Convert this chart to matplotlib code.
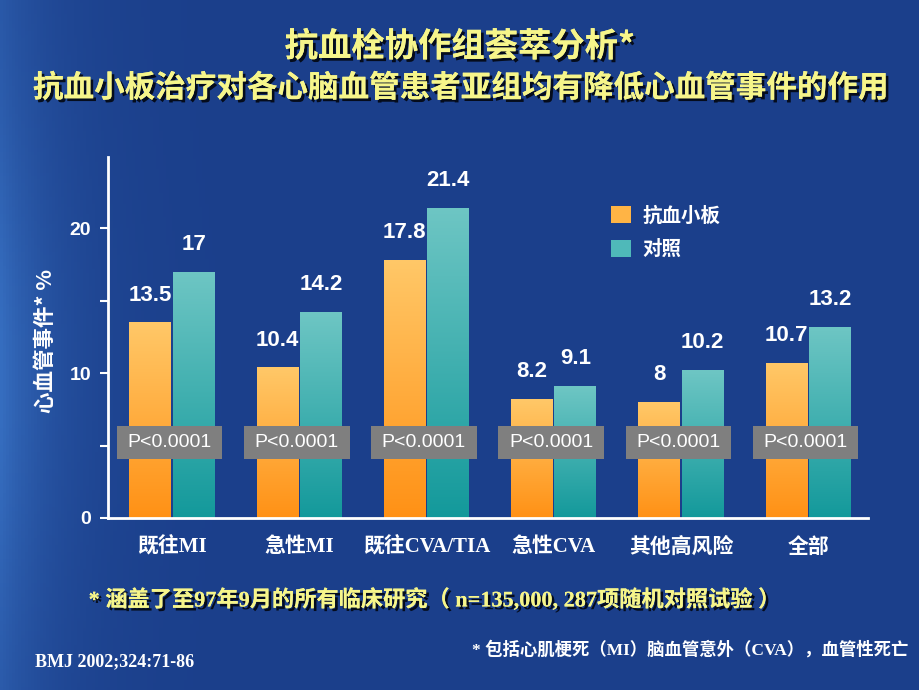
import matplotlib
matplotlib.use("Agg")
import matplotlib.pyplot as plt
import matplotlib.patheffects as pe
from matplotlib.patches import Rectangle, Patch
from matplotlib.colors import LinearSegmentedColormap
import numpy as np

# data
categories = ["既往MI", "急性MI", "既往CVA/TIA", "急性CVA", "其他高风险", "全部"]
antiplatelet = [13.5, 10.4, 17.8, 8.2, 8, 10.7]
control = [17, 14.2, 21.4, 9.1, 10.2, 13.2]
p_values = ["P<0.0001"] * 6
series_names = ["抗血小板", "对照"]

CJK = ["Noto Sans CJK SC", "DejaVu Sans"]
SERIF_CJK = ["Liberation Serif", "Noto Sans CJK SC"]
SANS = ["Liberation Sans", "DejaVu Sans"]
BG = "#1B3F8B"
YELLOW = "#F6F58A"

fig = plt.figure(figsize=(9.2, 6.9), dpi=100)
fig.patch.set_facecolor(BG)

# background: slightly lighter towards the left edge
bg = fig.add_axes([0, 0, 1, 1], zorder=-10)
xx = np.linspace(0, 1, 300)
yy = np.linspace(0, 1, 200)
X, Y = np.meshgrid(xx, yy)
glow = np.exp(-X / 0.06) * (0.5 + 0.5 * np.exp(-((Y - 0.45) / 0.35) ** 2))
base = np.array([0x1B, 0x3F, 0x8B]) / 255
light = np.array([0x36, 0x6E, 0xC0]) / 255
img = base + (light - base) * glow[..., None]
bg.imshow(img, extent=[0, 1, 0, 1], aspect="auto", origin="lower")
bg.axis("off")

ax = fig.add_axes([108 / 920, 1 - 518 / 690, 760 / 920, 361 / 690])
ax.set_facecolor("none")

x = np.arange(len(categories))
w = 0.33
off = 0.17
cm_orange = LinearSegmentedColormap.from_list("o", ["#FF9115", "#FFC868"])
cm_teal = LinearSegmentedColormap.from_list("t", ["#13999B", "#6EC6C4"])
grad = np.linspace(0, 1, 256).reshape(-1, 1)

bars1 = ax.bar(x - off, antiplatelet, w, facecolor="none", edgecolor="none")
bars2 = ax.bar(x + off, control, w, facecolor="none", edgecolor="none")
for bars, cm in ((bars1, cm_orange), (bars2, cm_teal)):
    for b in bars:
        x0, h = b.get_x(), b.get_height()
        im = ax.imshow(grad, extent=[x0, x0 + b.get_width(), 0, h], origin="lower",
                       aspect="auto", cmap=cm, zorder=2)
        im.set_clip_path(b)

for bars, vals in ((bars1, antiplatelet), (bars2, control)):
    for b, v in zip(bars, vals):
        ax.annotate(f"{v:g}", (b.get_x() + b.get_width() / 2, v), xytext=(0, 12),
                    textcoords="offset points", ha="center", va="bottom",
                    color="white", fontsize=16, fontweight="bold", family=SANS)

# p-value boxes
for xi, p in zip(x, p_values):
    ax.add_patch(Rectangle((xi - 0.435, 4.07), 0.83, 2.27, facecolor="#7F7F7F",
                           edgecolor="none", zorder=3))
    ax.text(xi - 0.02, 5.2, p, ha="center", va="center", color="white",
            fontsize=14, family=SANS, zorder=4)

ax.set_xlim(-0.503, 5.47)
ax.set_ylim(0, 24.9)
ax.set_yticks([0, 5, 10, 15, 20])
ax.set_yticklabels(["0", "", "10", "", "20"])
for lab in ax.get_yticklabels():
    lab.set_family(SANS)
    lab.set_fontweight("bold")
    lab.set_fontsize(14)
    lab.set_color("white")
ax.tick_params(axis="y", colors="white", length=6, width=1.5, pad=6)
ax.set_xticks(x)
ax.set_xticklabels(categories)
for lab in ax.get_xticklabels():
    lab.set_family(SERIF_CJK)
    lab.set_fontweight("bold")
    lab.set_fontsize(15)
    lab.set_color("white")
ax.tick_params(axis="x", length=0, pad=14)

for s in ("top", "right"):
    ax.spines[s].set_visible(False)
for s in ("left", "bottom"):
    ax.spines[s].set_color("white")
    ax.spines[s].set_linewidth(2)

ax.set_ylabel("心血管事件* %", family=CJK, fontweight="bold", fontsize=15.5, color="white")
ax.yaxis.set_label_coords(-0.068, 0.49)

handles = [Patch(facecolor="#FFB445"), Patch(facecolor="#4FB9B9")]
leg = ax.legend(handles, series_names, loc="upper left", bbox_to_anchor=(0.662, 0.865),
                frameon=False, handlelength=1.0, handleheight=1.0, handletextpad=0.6,
                labelspacing=0.75, borderpad=0, borderaxespad=0,
                prop={"family": CJK, "weight": "bold", "size": 14})
for t in leg.get_texts():
    t.set_color("white")

shadow = [pe.withSimplePatchShadow(offset=(2, -2), shadow_rgbFace="black", alpha=0.8), pe.Normal()]
fig.text(0.5, 1 - 47 / 690, "抗血栓协作组荟萃分析*", ha="center", va="center", color=YELLOW,
         fontsize=24, fontweight="bold", family=CJK, path_effects=shadow)
fig.text(0.5, 1 - 88 / 690, "抗血小板治疗对各心脑血管患者亚组均有降低心血管事件的作用", ha="center",
         va="center", color=YELLOW, fontsize=22, fontweight="bold", family=CJK, path_effects=shadow)

fig.text(435 / 920, 1 - 600 / 690, "* 涵盖了至97年9月的所有临床研究（ n=135,000, 287项随机对照试验 ）",
         ha="center", va="center", color=YELLOW, fontsize=16, fontweight="bold",
         family=SERIF_CJK, path_effects=shadow)
fig.text(908 / 920, 1 - 650 / 690, "* 包括心肌梗死（MI）脑血管意外（CVA），血管性死亡",
         ha="right", va="center", color="white", fontsize=12.5, fontweight="bold", family=SERIF_CJK)
fig.text(35 / 920, 1 - 662 / 690, "BMJ 2002;324:71-86", ha="left", va="center", color="white",
         fontsize=13, fontweight="bold", family=["Liberation Serif"])

fig.savefig("out.png", dpi=100, facecolor=fig.get_facecolor())
